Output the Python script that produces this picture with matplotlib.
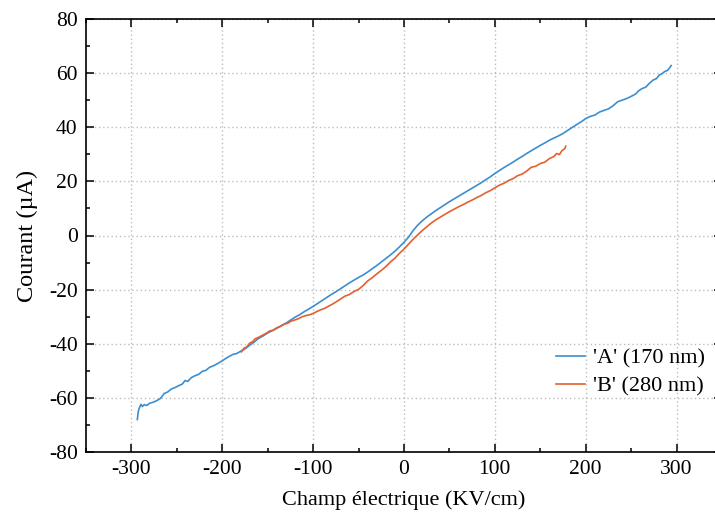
import matplotlib
matplotlib.use('Agg')
import matplotlib.pyplot as plt
from matplotlib.ticker import MultipleLocator

# sample 'A' (170 nm)
a_field = [-293.5, -292.5, -291, -289.5, -288, -286, -283, -280, -276, -272,
           -268, -264, -260, -256, -252, -248, -244, -241, -238, -234,
           -230, -226, -222, -218, -214, -210, -205, -200, -196, -192,
           -188, -184, -180, -175, -170, -165, -160, -155, -150, -145,
           -140, -135, -130, -125, -120, -115, -110, -105, -100, -95,
           -90, -85, -80, -75, -70, -65, -60, -55, -50, -45,
           -40, -35, -30, -25, -20, -15, -10, -5, 0, 5,
           10, 15, 20, 25, 30, 35, 40, 45, 50, 55,
           60, 65, 70, 75, 80, 85, 90, 95, 100, 105,
           110, 115, 120, 125, 130, 135, 140, 145, 150, 155,
           160, 165, 170, 175, 180, 185, 190, 195, 200, 205,
           210, 215, 220, 225, 230, 235, 240, 245, 250, 255,
           258, 262, 266, 270, 274, 278, 281, 284, 287, 290,
           292, 294]
a_current = [-68.0, -65.0, -63.5, -62.4, -63.2, -62.5, -62.8, -62.0, -61.6, -61.0,
             -60.2, -58.4, -57.8, -56.7, -56.2, -55.5, -54.9, -53.6, -53.9, -52.5,
             -51.8, -51.3, -50.2, -49.8, -48.7, -48.2, -47.3, -46.3, -45.4, -44.6,
             -43.9, -43.6, -42.8, -41.9, -40.6, -39.4, -38.0, -37.1, -36.0, -35.2,
             -34.3, -33.3, -32.4, -31.3, -30.2, -29.3, -28.2, -27.2, -26.2, -25.1,
             -24.0, -22.9, -21.8, -20.8, -19.7, -18.6, -17.5, -16.5, -15.5, -14.6,
             -13.5, -12.3, -11.1, -9.8, -8.5, -7.2, -5.8, -4.2, -2.5, -0.6,
             1.8, 3.8, 5.4, 6.8, 8.0, 9.2, 10.3, 11.4, 12.5, 13.5,
             14.5, 15.5, 16.5, 17.5, 18.5, 19.5, 20.6, 21.7, 22.9, 24.0,
             25.1, 26.1, 27.1, 28.2, 29.2, 30.3, 31.3, 32.3, 33.3, 34.2,
             35.2, 36.0, 36.8, 37.7, 38.8, 39.9, 41.0, 42.0, 43.2, 44.0,
             44.5, 45.6, 46.2, 46.8, 47.9, 49.4, 50.0, 50.6, 51.4, 52.3,
             53.4, 54.3, 54.8, 56.2, 57.4, 58.0, 59.3, 59.8, 60.6, 61.0,
             61.8, 62.8]

# sample 'B' (280 nm)
b_field = [-179, -176, -173, -170, -167, -164, -160, -156, -152, -148,
           -144, -140, -136, -132, -128, -124, -120, -116, -112, -108,
           -104, -100, -96, -92, -88, -84, -80, -75, -70, -65,
           -60, -55, -50, -45, -40, -35, -30, -25, -20, -15,
           -10, -5, 0, 5, 10, 15, 20, 25, 30, 35,
           40, 45, 50, 55, 60, 65, 70, 75, 80, 85,
           90, 95, 100, 105, 110, 115, 120, 125, 130, 135,
           140, 145, 150, 155, 160, 165, 168, 171, 174, 177,
           178]
b_current = [-43.0, -41.6, -41.2, -39.8, -39.3, -38.2, -37.6, -36.9, -36.2, -35.3,
             -35.0, -34.1, -33.6, -32.8, -32.4, -31.6, -31.2, -30.7, -30.0, -29.6,
             -29.3, -28.8, -28.1, -27.5, -27.0, -26.3, -25.6, -24.6, -23.5, -22.4,
             -21.8, -20.7, -19.9, -18.5, -16.8, -15.6, -14.2, -12.9, -11.5, -9.8,
             -8.4, -6.6, -5.0, -3.2, -1.4, 0.2, 1.8, 3.2, 4.6, 5.8,
             6.8, 7.8, 8.8, 9.7, 10.6, 11.4, 12.3, 13.1, 14.0, 14.8,
             15.8, 16.6, 17.6, 18.6, 19.3, 20.3, 21.0, 22.1, 22.7, 23.8,
             25.2, 25.6, 26.6, 27.1, 28.4, 29.2, 30.3, 29.9, 31.4, 32.1,
             33.0]

labels = ["'A' (170 nm)", "'B' (280 nm)"]

plt.rcParams['font.family'] = ['Liberation Serif', 'DejaVu Serif']
plt.rcParams['axes.unicode_minus'] = False  # plain hyphen as in the original

fig = plt.figure(figsize=(7.15, 5.15), dpi=100)
# the original picture is cut on the right, so the axes run past the edge
ax = fig.add_axes([86 / 715, 63 / 515, 636 / 715, 433 / 515])

ax.plot(a_field, a_current, color='#3b8ed0', lw=1.2, label=labels[0])
ax.plot(b_field, b_current, color='#e5602e', lw=1.2, label=labels[1])

ax.set_xlim(-350, 350)
ax.set_ylim(-80, 80)
ax.xaxis.set_major_locator(MultipleLocator(100))
ax.xaxis.set_minor_locator(MultipleLocator(50))
ax.yaxis.set_major_locator(MultipleLocator(20))
ax.yaxis.set_minor_locator(MultipleLocator(10))
ax.grid(True, which='major', color='#bdbdbd', linestyle=(0, (1, 2)), linewidth=1.0)

ax.tick_params(which='both', direction='in', top=True, right=True,
               labelsize=15.5, width=1.1)
ax.tick_params(which='major', length=5.5, pad=6)
ax.tick_params(which='minor', length=3)
for s in ax.spines.values():
    s.set_linewidth(1.2)

ax.set_xlabel('Champ électrique (KV/cm)', fontsize=16, labelpad=8)
ax.set_ylabel('Courant (µA)', fontsize=17.5, labelpad=8)

ax.legend(loc='upper left', bbox_to_anchor=(556 / 715, 167 / 515),
          bbox_transform=fig.transFigure, frameon=False, fontsize=16,
          handlelength=1.3, handletextpad=0.35, labelspacing=0.35,
          borderpad=0, borderaxespad=0)

fig.savefig('out.png', dpi=100)
